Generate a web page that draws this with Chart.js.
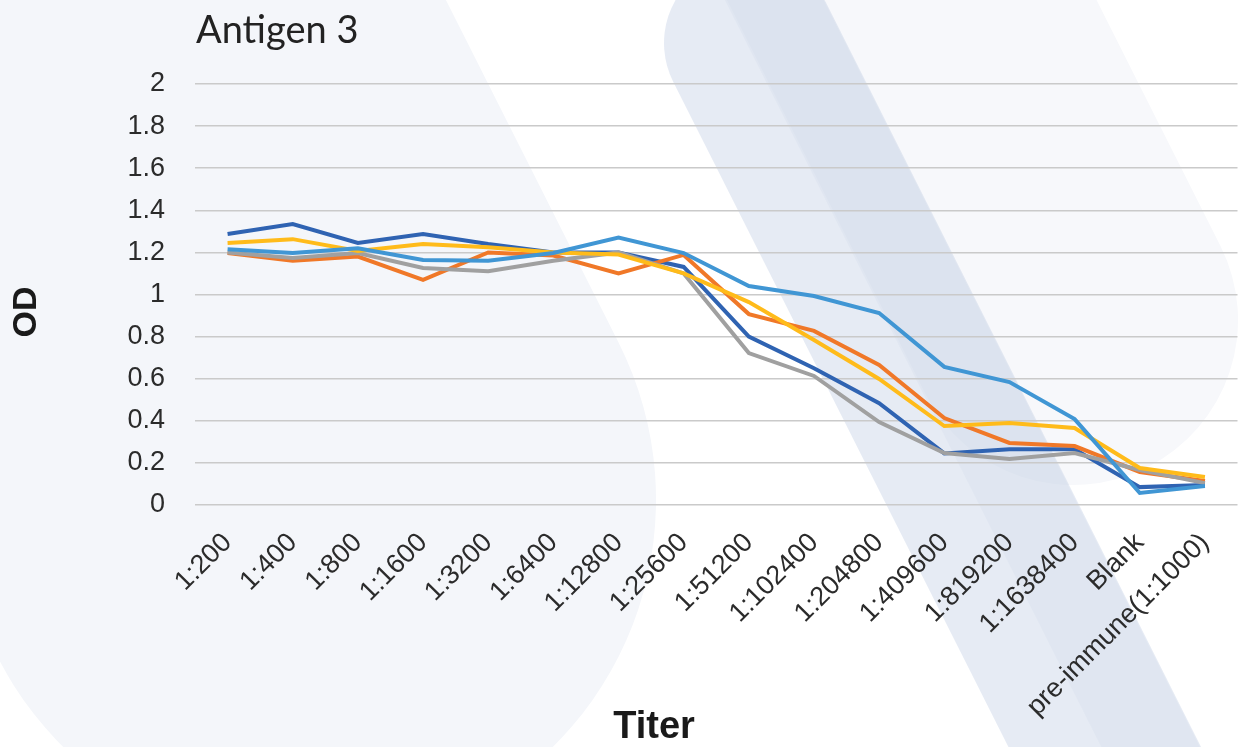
<!DOCTYPE html>
<html>
<head>
<meta charset="utf-8">
<title>Antigen 3</title>
<script src="https://cdn.jsdelivr.net/npm/chart.js@4.4.1/dist/chart.umd.min.js"></script>
<style>
  html, body { margin: 0; padding: 0; background: #ffffff; overflow: hidden; }
  #wrap { width: 1250px; height: 747px; }
</style>
</head>
<body>
<div id="wrap"><canvas id="odChart" width="1250" height="747"></canvas></div>
<script>
// === Data ===
const titers = ["1:200", "1:400", "1:800", "1:1600", "1:3200", "1:6400", "1:12800", "1:25600",
  "1:51200", "1:102400", "1:204800", "1:409600", "1:819200", "1:1638400", "Blank", "pre-immune(1:1000)"];

const darkBlue  = [1.287, 1.335, 1.245, 1.287, 1.24, 1.20, 1.20, 1.131, 0.80, 0.65, 0.484, 0.245, 0.265, 0.265, 0.085, 0.095];
const orange    = [1.197, 1.16, 1.18, 1.07, 1.20, 1.185, 1.10, 1.188, 0.907, 0.827, 0.665, 0.413, 0.295, 0.28, 0.157, 0.114];
const gray      = [1.20, 1.173, 1.197, 1.126, 1.11, 1.16, 1.20, 1.10, 0.722, 0.613, 0.394, 0.247, 0.219, 0.247, 0.166, 0.104];
const yellow    = [1.245, 1.263, 1.207, 1.24, 1.225, 1.20, 1.19, 1.10, 0.964, 0.784, 0.599, 0.375, 0.39, 0.366, 0.176, 0.133];
const lightBlue = [1.215, 1.197, 1.22, 1.164, 1.16, 1.197, 1.27, 1.197, 1.04, 0.993, 0.912, 0.656, 0.584, 0.408, 0.057, 0.09];

const yTickLabels = ["0", "0.2", "0.4", "0.6", "0.8", "1", "1.2", "1.4", "1.6", "1.8", "2"];

const chartTitle = "Antigen 3";
const xTitle = "Titer";
const yTitle = "OD";

// === Decorative background ===
const bandAngle = Math.atan2(0.893, 0.45);

function capsule(ctx, x0, y0, len, r, color) {
  ctx.save();
  ctx.translate(x0, y0);
  ctx.rotate(bandAngle);
  ctx.beginPath();
  ctx.roundRect(-r, -r, len + 2 * r, 2 * r, r);
  ctx.fillStyle = color;
  ctx.fill();
  ctx.restore();
}

const backdrop = {
  id: "backdrop",
  beforeDraw(chart) {
    const ctx = chart.ctx;
    ctx.save();
    ctx.fillStyle = "#ffffff";
    ctx.fillRect(0, 0, chart.width, chart.height);
    capsule(ctx, -232, -572, 1200, 348, "#f4f6fa");
    capsule(ctx, 623, -573, 1000, 165, "#f7f8fb");
    capsule(ctx, 750, 43, 1500, 86, "rgba(190,203,226,0.38)");
    capsule(ctx, 620, -306, 1600, 44, "rgba(190,203,226,0.14)");
    ctx.restore();
  },
  afterDraw(chart) {
    const ctx = chart.ctx;
    ctx.save();
    ctx.fillStyle = "#222222";
    ctx.font = "38px Lato, 'Open Sans', sans-serif";
    ctx.textAlign = "left";
    ctx.textBaseline = "alphabetic";
    ctx.fillText(chartTitle, 196, 43);

    ctx.fillStyle = "#1a1a1a";
    ctx.font = "bold 38px 'Liberation Sans', Arial, sans-serif";
    ctx.textAlign = "center";
    ctx.textBaseline = "middle";
    ctx.fillText(xTitle, 654, 728);

    ctx.translate(27, 312);
    ctx.rotate(-Math.PI / 2);
    ctx.font = "bold 34px 'Liberation Sans', Arial, sans-serif";
    ctx.fillText(yTitle, 0, 0);
    ctx.restore();
  }
};

// === Chart ===
function lineSet(data, color, order) {
  return {
    data: data,
    borderColor: color,
    backgroundColor: color,
    borderWidth: 4,
    pointRadius: 0,
    tension: 0,
    fill: false,
    order: order
  };
}

const tickFont = { family: "'Liberation Sans', Arial, sans-serif", size: 27 };

new Chart(document.getElementById("odChart").getContext("2d"), {
  type: "line",
  data: {
    labels: titers,
    datasets: [
      lineSet(darkBlue, "#2f63b2", 5),
      lineSet(orange, "#f07828", 4),
      lineSet(gray, "#a0a0a0", 3),
      lineSet(yellow, "#ffbb1a", 2),
      lineSet(lightBlue, "#4096d4", 1)
    ]
  },
  options: {
    responsive: false,
    animation: false,
    events: [],
    layout: { padding: { left: 0, top: 84, right: 5, bottom: 0 } },
    plugins: {
      legend: { display: false },
      title: { display: false },
      tooltip: { enabled: false }
    },
    scales: {
      x: {
        offset: true,
        grid: { display: false, drawTicks: false },
        border: { display: false },
        ticks: {
          autoSkip: false,
          maxRotation: 45,
          minRotation: 45,
          padding: 22,
          color: "#2b2b2b",
          font: tickFont
        },
        afterFit(scale) { scale.height = 242; }
      },
      y: {
        min: 0,
        max: 2,
        grid: { color: "#cacaca", lineWidth: 1.5, drawTicks: false },
        border: { display: false },
        ticks: {
          stepSize: 0.2,
          padding: 30,
          color: "#2b2b2b",
          font: tickFont,
          callback: (value, index) => yTickLabels[index]
        },
        afterFit(scale) { scale.width = 195; }
      }
    }
  },
  plugins: [backdrop]
});
</script>
</body>
</html>
